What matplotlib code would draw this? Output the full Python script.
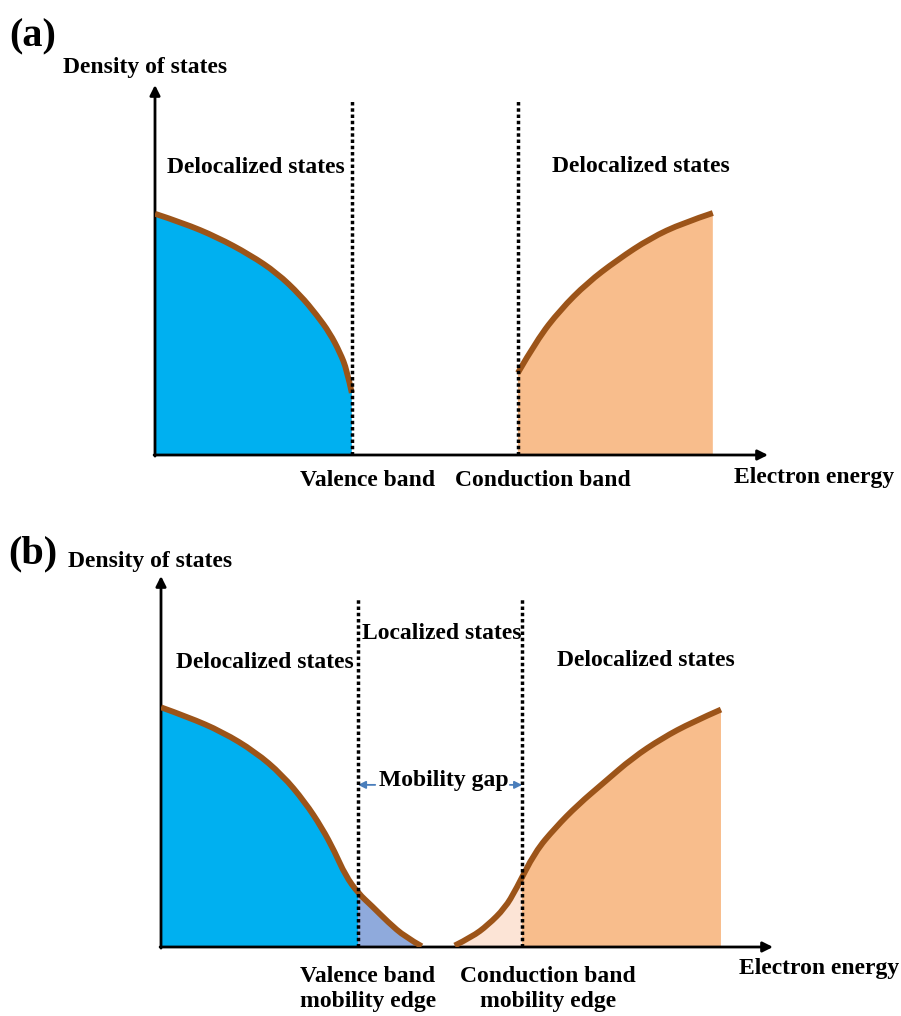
import numpy as np
import matplotlib
matplotlib.use("Agg")
import matplotlib.pyplot as plt
from matplotlib.path import Path
from matplotlib.patches import PathPatch, Rectangle

plt.rcParams['font.family'] = ['Liberation Serif', 'DejaVu Serif']
plt.rcParams['font.weight'] = 'bold'

# Panel (a): band edges and density of states (arbitrary units)
a_vb_edge = 3.21
a_cb_edge = 5.92
a_vb_E = [0.0, 0.46, 1.01, 1.55, 1.99, 2.37, 2.64, 2.85, 3.02, 3.13, 3.21]
a_vb_D = [6.52, 6.27, 5.89, 5.41, 4.92, 4.32, 3.78, 3.30, 2.76, 2.30, 1.68]
a_cb_E = [5.92, 6.23, 6.61, 7.05, 7.54, 8.08, 8.61, 9.10]
a_cb_D = [2.22, 3.11, 3.92, 4.65, 5.27, 5.86, 6.27, 6.54]

# Panel (b): mobility edges with band tails
b_vb_edge = 3.22
b_cb_edge = 5.90
b_vb_E = [0.0, 0.44, 1.00, 1.54, 1.98, 2.35, 2.63, 2.84, 3.01, 3.22,
          3.45, 3.71, 3.99, 4.26]
b_vb_D = [6.46, 6.20, 5.80, 5.26, 4.64, 3.91, 3.21, 2.56, 1.94, 1.45,
          1.10, 0.67, 0.27, 0.02]
b_cb_E = [4.80, 5.08, 5.34, 5.62, 5.80, 6.11, 6.44, 6.81, 7.25, 7.70,
          8.19, 8.68, 9.15]
b_cb_D = [0.04, 0.27, 0.59, 1.05, 1.55, 2.56, 3.21, 3.83, 4.45, 5.09,
          5.63, 6.06, 6.40]

blue = '#00B0F0'
blue_tail = '#8FAADC'
orange = '#F8BD8C'
orange_tail = '#FCE4D6'
brown = '#9C5419'
fs = 17


def curve_path(E, D, closed=False):
    # quadratic Bezier through the midpoints, points act as control points
    pts = list(zip(E, D))
    verts = [pts[0]]
    codes = [Path.MOVETO]
    for i in range(1, len(pts) - 1):
        mid = ((pts[i][0] + pts[i + 1][0]) / 2, (pts[i][1] + pts[i + 1][1]) / 2)
        if i == len(pts) - 2:
            mid = pts[-1]
        verts += [pts[i], mid]
        codes += [Path.CURVE3, Path.CURVE3]
    if closed:
        verts += [(E[-1], 0), (E[0], 0), (0, 0)]
        codes += [Path.LINETO, Path.LINETO, Path.CLOSEPOLY]
    return Path(verts, codes)


def draw_band(ax, E, D, color, split=None, left_color=None):
    area = PathPatch(curve_path(E, D, True), facecolor=color, lw=0, zorder=1)
    ax.add_patch(area)
    if split is not None:
        part = PathPatch(curve_path(E, D, True), facecolor=left_color, lw=0, zorder=1.5)
        ax.add_patch(part)
        clip = Rectangle((0, 0), split, 10, transform=ax.transData)
        part.set_clip_path(clip)
    ax.add_patch(PathPatch(curve_path(E, D), facecolor='none', edgecolor=brown,
                           lw=4.2, capstyle='butt', zorder=3))


def draw_axes(ax):
    ax.set_xlim(0, 10)
    ax.set_ylim(0, 10)
    ax.axis('off')
    arrow = dict(arrowstyle='-|>', color='black', lw=2.0, mutation_scale=15,
                 shrinkA=0, shrinkB=0)
    ax.annotate('', xy=(10, 0), xytext=(-0.015, 0), arrowprops=arrow, annotation_clip=False)
    ax.annotate('', xy=(0, 10), xytext=(0, -0.03), arrowprops=arrow, annotation_clip=False)


fig = plt.figure(figsize=(9.01, 10.16), dpi=100)

# ---- (a)
ax1 = fig.add_axes([155 / 901, 1 - 455 / 1016, 613 / 901, 370 / 1016])
draw_axes(ax1)
draw_band(ax1, a_vb_E, a_vb_D, blue)
draw_band(ax1, a_cb_E, a_cb_D, orange)
for e in (a_vb_edge, a_cb_edge):
    ax1.plot([e, e], [0, 9.6], color='black', lw=2.5, ls=(0, (1, 0.8)), zorder=4)

ax1.text(-1.99, 11.3, '(a)', fontsize=29, ha='center', va='center')
ax1.text(-0.16, 10.46, 'Density of states', fontsize=fs, ha='center', va='center')
ax1.text(1.65, 7.76, 'Delocalized states', fontsize=fs, ha='center', va='center')
ax1.text(7.93, 7.81, 'Delocalized states', fontsize=fs, ha='center', va='center')
ax1.text(3.47, -0.68, 'Valence band', fontsize=fs, ha='center', va='center')
ax1.text(6.33, -0.68, 'Conduction band', fontsize=fs, ha='center', va='center')
ax1.text(10.75, -0.62, 'Electron energy', fontsize=fs, ha='center', va='center')

# ---- (b)
ax2 = fig.add_axes([161 / 901, 1 - 947 / 1016, 612 / 901, 371 / 1016])
draw_axes(ax2)
draw_band(ax2, b_vb_E, b_vb_D, blue_tail, split=b_vb_edge, left_color=blue)
draw_band(ax2, b_cb_E, b_cb_D, orange, split=b_cb_edge, left_color=orange_tail)
for e in (b_vb_edge, b_cb_edge):
    ax2.plot([e, e], [0, 9.43], color='black', lw=2.5, ls=(0, (1, 0.8)), zorder=4)

# mobility gap arrows
gap_arrow = dict(arrowstyle='-|>', color='#4A7EBB', lw=1.3, mutation_scale=11,
                 shrinkA=0, shrinkB=0)
ax2.annotate('', xy=(b_vb_edge, 4.37), xytext=(3.50, 4.37), arrowprops=gap_arrow)
ax2.annotate('', xy=(b_cb_edge, 4.37), xytext=(5.70, 4.37), arrowprops=gap_arrow)

ax2.text(-2.1, 10.6, '(b)', fontsize=29, ha='center', va='center')
ax2.text(-0.18, 10.38, 'Density of states', fontsize=fs, ha='center', va='center')
ax2.text(4.59, 8.44, 'Localized states', fontsize=fs, ha='center', va='center')
ax2.text(1.70, 7.68, 'Delocalized states', fontsize=fs, ha='center', va='center')
ax2.text(7.92, 7.71, 'Delocalized states', fontsize=fs, ha='center', va='center')
ax2.text(4.62, 4.50, 'Mobility gap', fontsize=fs, ha='center', va='center')
ax2.text(3.38, -1.13, 'Valence band\nmobility edge', fontsize=fs, ha='center',
         va='center', linespacing=1.2)
ax2.text(6.32, -1.13, 'Conduction band\nmobility edge', fontsize=fs, ha='center',
         va='center', linespacing=1.2)
ax2.text(10.75, -0.57, 'Electron energy', fontsize=fs, ha='center', va='center')

fig.savefig('out.png', dpi=100)
